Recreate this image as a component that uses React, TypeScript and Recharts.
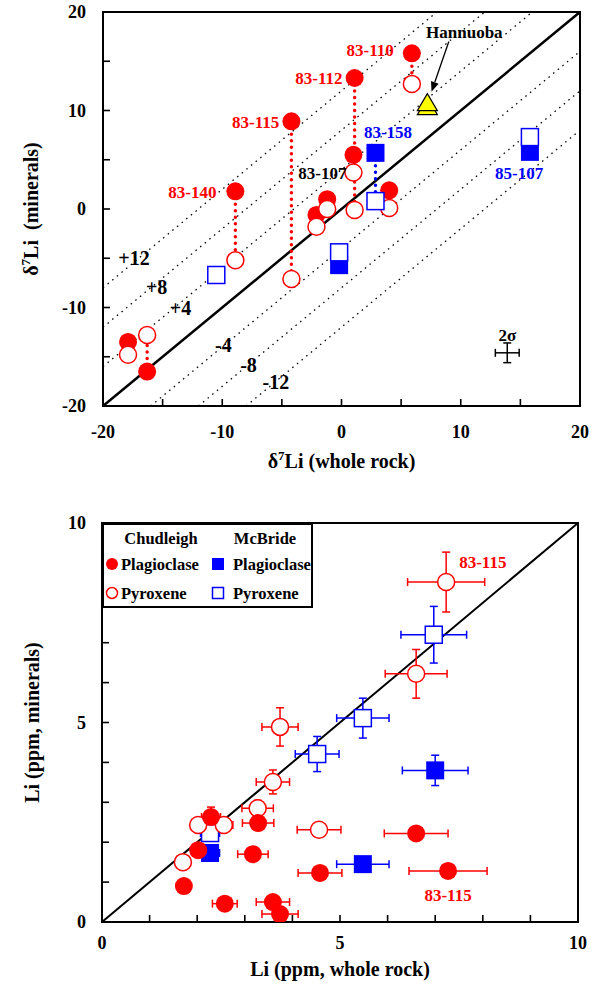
import React from "react";
import {
  ScatterChart,
  Scatter,
  XAxis,
  YAxis,
  ReferenceLine,
  ReferenceArea,
  ErrorBar,
  Legend,
  Label,
} from "recharts";

const FONT = "'Liberation Serif', 'Times New Roman', serif";
const RED = "#ff0000";
const BLUE = "#0000ff";

// ---- top panel: d7Li whole rock vs minerals ----
const chudWr = [-17.9, -16.3, -8.9, -4.2, -2.1, -1.2, 1.1, 1.0, 4.0, 5.9];
const chudPlag = [-13.5, -16.5, 1.8, 8.9, -0.6, 1.0, 13.3, 5.5, 1.9, 15.8];
const chudPyx = [-14.8, -12.8, -5.2, -7.1, -1.8, 0.0, -0.1, 3.7, 0.1, 12.7];

const mcbWr = [2.85, -0.2, 15.8, -10.5];
const mcbPlag = [5.7, -5.7, 5.8, null];
const mcbPyx = [0.8, -4.4, 7.3, -6.7];

const hannuobaX = 7.2;
const hannuobaY = 10.8;
const arrowFrom = { x: 9.0, y: 17.0 };
const arrowTo = { x: 7.55, y: 11.9 };

const sigmaX = 13.9;
const sigmaY = -14.6;
const sigmaErr = 1;

const offsets = [12, 8, 4, -4, -8, -12];
const offsetLabelX = [-17.4, -15.5, -13.5, -9.9, -7.8, -5.5];
const offsetLabelY = [-5.0, -7.9, -10.1, -13.8, -15.8, -17.6];

const topNames = ["83-110", "83-112", "83-115", "83-140", "83-107", "83-158", "85-107", "Hannuoba", "2σ"];
const topNameGroup = ["chud", "chud", "chud", "chud", "other", "mcb", "mcb", "other", "other"];
const topNameX = [2.4, -1.9, -7.2, -12.5, -1.6, 3.9, 14.9, 10.3, 13.9];
const topNameY = [16.1, 13.3, 8.8, 1.7, 3.7, 7.8, 3.7, 18.0, -12.8];

const topTicks = [-20, -15, -10, -5, 0, 5, 10, 15, 20];

// ---- bottom panel: Li ppm whole rock vs minerals ----
const liChudPlagWr = [7.27, 6.6, 4.58, 3.74, 3.59, 2.58, 1.72, 2.02, 3.17, 3.28, 2.29];
const liChudPlagMin = [1.28, 2.22, 1.23, 0.2, 0.5, 0.46, 0.9, 1.8, 1.7, 2.48, 2.63];
const liChudPlagWrErr = [0.82, 0.67, 0.46, 0.38, 0.35, 0.26, 0, 0, 0.32, 0.33, 0.2];
const liChudPlagMinErr = [0, 0, 0, 0, 0, 0, 0, 0, 0, 0.1, 0.25];

const liChudPyxWr = [7.23, 6.6, 3.74, 3.59, 3.27, 4.56, 2.02, 2.56, 1.7];
const liChudPyxMin = [8.52, 6.22, 4.89, 3.51, 2.85, 2.31, 2.43, 2.43, 1.5];
const liChudPyxWrErr = [0.81, 0.65, 0.38, 0.35, 0.33, 0.46, 0, 0.19, 0];
const liChudPyxMinErr = [0.75, 0.61, 0.48, 0.3, 0.2, 0, 0, 0, 0];

const liMcbPlagWr = [7.0, 5.48, 2.27];
const liMcbPlagMin = [3.8, 1.45, 1.73];
const liMcbPlagWrErr = [0.69, 0.55, 0.2];
const liMcbPlagMinErr = [0.38, 0, 0];

const liMcbPyxWr = [6.97, 5.48, 4.52, 2.27];
const liMcbPyxMin = [7.2, 5.11, 4.21, 2.23];
const liMcbPyxWrErr = [0.69, 0.55, 0.46, 0.2];
const liMcbPyxMinErr = [0.71, 0.5, 0.44, 0.1];

const bottomNames = ["83-115", "83-115"];
const bottomNameX = [8.0, 7.27];
const bottomNameY = [9.02, 0.68];

const bottomTicks = [0, 1, 2, 3, 4, 5, 6, 7, 8, 9, 10];

// ---- helpers ----
const groupColor: Record<string, string> = { chud: RED, mcb: BLUE, other: "#000" };

const pts = (xs: number[], ys: (number | null)[]) =>
  xs.map((x, i) => ({ x, y: ys[i] })).filter((d) => d.y !== null);

const errPts = (xs: number[], ys: number[], ex: number[], ey: number[]) =>
  xs.map((x, i) => ({ x, y: ys[i], ex: ex[i], ey: ey[i] }));

const textPts = (names: string[], xs: number[], ys: number[], groups?: string[]) =>
  names.map((text, i) => ({ x: xs[i], y: ys[i], text, group: groups ? groups[i] : "chud" }));

const FilledCircle = (p: any) => <circle cx={p.cx} cy={p.cy} r={9} fill={RED} />;
const OpenCircle = (p: any) => (
  <circle cx={p.cx} cy={p.cy} r={8.5} fill="#fff" stroke={RED} strokeWidth={1.5} />
);
const FilledSquare = (p: any) => (
  <rect x={p.cx - 9} y={p.cy - 9} width={18} height={18} fill={BLUE} />
);
const OpenSquare = (p: any) => (
  <rect x={p.cx - 8.5} y={p.cy - 8.5} width={17} height={17} fill="#fff" stroke={BLUE} strokeWidth={1.5} />
);
const Triangle = (p: any) => {
  const { cx, cy } = p;
  return (
    <g>
      <polygon
        points={`${cx},${cy - 5} ${cx - 10},${cy + 12} ${cx + 10},${cy + 12}`}
        fill="#ffff00"
        stroke="#000"
        strokeWidth={1.2}
      />
      <polygon
        points={`${cx},${cy - 9} ${cx - 10},${cy + 8} ${cx + 10},${cy + 8}`}
        fill="#ffff00"
        stroke="#000"
        strokeWidth={1.2}
      />
    </g>
  );
};
const NoMark = () => <g />;

const TextMark = (size: number) => (p: any) => (
  <text
    x={p.cx}
    y={p.cy}
    dy={size * 0.35}
    textAnchor="middle"
    fill={groupColor[p.payload.group]}
    fontFamily={FONT}
    fontWeight="bold"
    fontSize={size}
  >
    {p.payload.text}
  </text>
);

const Arrow = (p: any) => {
  const { x1, y1, x2, y2 } = p;
  const a = Math.atan2(y2 - y1, x2 - x1);
  const L = 10;
  const w = 4;
  const bx = x2 - L * Math.cos(a);
  const by = y2 - L * Math.sin(a);
  const px = -Math.sin(a) * w;
  const py = Math.cos(a) * w;
  return (
    <g>
      <line x1={x1} y1={y1} x2={bx} y2={by} stroke="#000" strokeWidth={1.3} />
      <polygon points={`${x2},${y2} ${bx + px},${by + py} ${bx - px},${by - py}`} fill="#000" />
    </g>
  );
};

// short inward tick marks, cut from full-span reference segments
const TickUp = (p: any) => {
  const y = Math.max(p.y1, p.y2);
  return <line x1={p.x1} x2={p.x1} y1={y} y2={y - 7} stroke="#000" strokeWidth={1.6} />;
};
const TickRight = (p: any) => {
  const x = Math.min(p.x1, p.x2);
  return <line x1={x} x2={x + 7} y1={p.y1} y2={p.y1} stroke="#000" strokeWidth={1.6} />;
};

const tickFont = { fill: "#000", fontSize: 18, fontWeight: "bold", fontFamily: FONT } as const;
const axisLine = { stroke: "#000", strokeWidth: 2 };
const labelStyle = { fontFamily: FONT, fontWeight: "bold", fontSize: 20, fill: "#000" } as const;

const BottomTick = (gap: number, every: number) => (p: any) => {
  const v = p.payload.value;
  if (v % every !== 0) return <g />;
  return (
    <text x={p.x} y={p.y + gap} dy="0.71em" textAnchor="middle" {...tickFont}>
      {v}
    </text>
  );
};

const LeftTick = (gap: number, every: number) => (p: any) => {
  const v = p.payload.value;
  if (v % every !== 0) return <g />;
  return (
    <text x={p.x - gap} y={p.y} dy="0.35em" textAnchor="end" {...tickFont}>
      {v}
    </text>
  );
};

const DeltaLabel = ({ rest }: { rest: string }) => (
  <>
    <tspan>δ</tspan>
    <tspan dy={-8} fontSize={13}>
      7
    </tspan>
    <tspan dy={8}>{rest}</tspan>
  </>
);

const xLabel = (dy: number, children: React.ReactNode) => (props: any) => {
  const vb = props.viewBox ?? { x: 0, y: 0, width: 0, height: 0 };
  return (
    <text x={vb.x + vb.width / 2} y={vb.y + dy} textAnchor="middle" {...labelStyle}>
      {children}
    </text>
  );
};

const yLabel = (cx: number, children: React.ReactNode) => (props: any) => {
  const vb = props.viewBox ?? { x: 0, y: 0, width: 0, height: 0 };
  const cy = vb.y + vb.height / 2;
  return (
    <text
      x={cx}
      y={cy + 6}
      textAnchor="middle"
      transform={`rotate(-90, ${cx}, ${cy})`}
      {...labelStyle}
    >
      {children}
    </text>
  );
};

const tickMarks = (ticks: number[], lo: number, hi: number) => [
  ...ticks.map((t) => (
    <ReferenceLine
      key={`tx${t}`}
      segment={[{ x: t, y: lo }, { x: t, y: hi }]}
      ifOverflow="visible"
      shape={TickUp}
    />
  )),
  ...ticks.map((t) => (
    <ReferenceLine
      key={`ty${t}`}
      segment={[{ x: lo, y: t }, { x: hi, y: t }]}
      ifOverflow="visible"
      shape={TickRight}
    />
  )),
];

function TopChart() {
  const ties = [
    ...chudWr.map((x, i) => ({ x, a: chudPlag[i], b: chudPyx[i], c: RED })),
    ...mcbWr
      .map((x, i) => ({ x, a: mcbPlag[i], b: mcbPyx[i], c: BLUE }))
      .filter((t) => t.a !== null),
  ];
  return (
    <ScatterChart width={599} height={480} margin={{ top: 12, right: 19, left: 0, bottom: 24 }}>
      <XAxis
        type="number"
        dataKey="x"
        domain={[-20, 20]}
        ticks={topTicks}
        interval={0}
        tickSize={0}
        tickMargin={0}
        tick={BottomTick(19, 10)}
        tickLine={false}
        axisLine={axisLine}
        height={50}
        allowDataOverflow
        label={<Label content={xLabel(62, <DeltaLabel rest="Li (whole rock)" />)} />}
      />
      <YAxis
        type="number"
        dataKey="y"
        domain={[-20, 20]}
        ticks={topTicks}
        interval={0}
        tickSize={0}
        tickMargin={0}
        tick={LeftTick(17, 10)}
        tickLine={false}
        axisLine={axisLine}
        width={103}
        allowDataOverflow
        label={<Label content={yLabel(32, <DeltaLabel rest={"Li\u00a0\u00a0(minerals)"} />)} />}
      />
      <ReferenceArea x1={-20} x2={20} y1={-20} y2={20} fill="none" stroke="#000" strokeWidth={2} ifOverflow="visible" />
      {tickMarks(topTicks, -20, 20)}
      {offsets.map((o) => (
        <ReferenceLine
          key={`o${o}`}
          segment={
            o > 0
              ? [{ x: -20, y: -20 + o }, { x: 20 - o, y: 20 }]
              : [{ x: -20 - o, y: -20 }, { x: 20, y: 20 + o }]
          }
          stroke="#000"
          strokeWidth={1.3}
          strokeDasharray="1.5 4.5"
          ifOverflow="visible"
        />
      ))}
      <ReferenceLine
        segment={[{ x: -20, y: -20 }, { x: 20, y: 20 }]}
        stroke="#000"
        strokeWidth={2.5}
        ifOverflow="visible"
      />
      {ties.map((t, i) => (
        <ReferenceLine
          key={`t${i}`}
          segment={[{ x: t.x, y: t.a as number }, { x: t.x, y: t.b as number }]}
          stroke={t.c}
          strokeWidth={3.5}
          strokeDasharray="0 6.5"
          strokeLinecap="round"
          ifOverflow="visible"
        />
      ))}
      <ReferenceLine segment={[arrowFrom, arrowTo]} ifOverflow="visible" shape={Arrow} />
      <Scatter data={pts(chudWr, chudPlag)} shape={FilledCircle} isAnimationActive={false} />
      <Scatter data={pts(chudWr, chudPyx)} shape={OpenCircle} isAnimationActive={false} />
      <Scatter data={pts(mcbWr, mcbPlag)} shape={FilledSquare} isAnimationActive={false} />
      <Scatter data={pts(mcbWr, mcbPyx)} shape={OpenSquare} isAnimationActive={false} />
      <Scatter data={[{ x: hannuobaX, y: hannuobaY }]} shape={Triangle} isAnimationActive={false} />
      <Scatter
        data={[{ x: sigmaX, y: sigmaY, ex: sigmaErr, ey: sigmaErr }]}
        shape={NoMark}
        isAnimationActive={false}
      >
        <ErrorBar dataKey="ex" direction="x" width={4} stroke="#000" strokeWidth={1.5} />
        <ErrorBar dataKey="ey" direction="y" width={4} stroke="#000" strokeWidth={1.5} />
      </Scatter>
      <Scatter
        data={offsets.map((o, i) => ({
          x: offsetLabelX[i],
          y: offsetLabelY[i],
          text: o > 0 ? `+${o}` : `${o}`,
          group: "other",
        }))}
        shape={TextMark(20)}
        isAnimationActive={false}
      />
      <Scatter
        data={textPts(topNames, topNameX, topNameY, topNameGroup)}
        shape={TextMark(17)}
        isAnimationActive={false}
      />
    </ScatterChart>
  );
}

const LegendBox = () => (
  <svg width={211} height={85} style={{ display: "block" }}>
    <rect x={1} y={1} width={209} height={83} fill="#fff" stroke="#000" strokeWidth={2} />
    <g fontFamily={FONT} fontWeight="bold" fontSize={16.5} fill="#000">
      <text x={59} y={21} textAnchor="middle">Chudleigh</text>
      <text x={163} y={21} textAnchor="middle">McBride</text>
      <circle cx={10} cy={41} r={6} fill={RED} />
      <text x={19} y={47}>Plagioclase</text>
      <rect x={110} y={35} width={12} height={12} fill={BLUE} />
      <text x={131} y={47}>Plagioclase</text>
      <circle cx={10} cy={70} r={5.5} fill="#fff" stroke={RED} strokeWidth={1.5} />
      <text x={19} y={76}>Pyroxene</text>
      <rect x={110.5} y={64.5} width={11} height={11} fill="#fff" stroke={BLUE} strokeWidth={1.5} />
      <text x={131} y={76}>Pyroxene</text>
    </g>
  </svg>
);

function BottomChart() {
  return (
    <ScatterChart width={599} height={496} margin={{ top: 33, right: 21, left: 0, bottom: 14 }}>
      <XAxis
        type="number"
        dataKey="x"
        domain={[0, 10]}
        ticks={bottomTicks}
        interval={0}
        tickSize={0}
        tickMargin={0}
        tick={BottomTick(14, 5)}
        tickLine={false}
        axisLine={axisLine}
        height={50}
        allowDataOverflow
        label={<Label content={xLabel(54, "Li (ppm, whole rock)")} />}
      />
      <YAxis
        type="number"
        dataKey="y"
        domain={[0, 10]}
        ticks={bottomTicks}
        interval={0}
        tickSize={0}
        tickMargin={0}
        tick={LeftTick(16, 5)}
        tickLine={false}
        axisLine={axisLine}
        width={102}
        allowDataOverflow
        label={<Label content={yLabel(33, "Li (ppm, minerals)")} />}
      />
      <ReferenceArea x1={0} x2={10} y1={0} y2={10} fill="none" stroke="#000" strokeWidth={2} ifOverflow="visible" />
      {tickMarks(bottomTicks, 0, 10)}
      <ReferenceLine
        segment={[{ x: 0, y: 0 }, { x: 10, y: 10 }]}
        stroke="#000"
        strokeWidth={2}
        ifOverflow="visible"
      />
      <Scatter
        data={errPts(liMcbPyxWr, liMcbPyxMin, liMcbPyxWrErr, liMcbPyxMinErr)}
        shape={OpenSquare}
        isAnimationActive={false}
      >
        <ErrorBar dataKey="ex" direction="x" width={4} stroke={BLUE} strokeWidth={1.5} />
        <ErrorBar dataKey="ey" direction="y" width={4} stroke={BLUE} strokeWidth={1.5} />
      </Scatter>
      <Scatter
        data={errPts(liMcbPlagWr, liMcbPlagMin, liMcbPlagWrErr, liMcbPlagMinErr)}
        shape={FilledSquare}
        isAnimationActive={false}
      >
        <ErrorBar dataKey="ex" direction="x" width={4} stroke={BLUE} strokeWidth={1.5} />
        <ErrorBar dataKey="ey" direction="y" width={4} stroke={BLUE} strokeWidth={1.5} />
      </Scatter>
      <Scatter
        data={errPts(liChudPyxWr, liChudPyxMin, liChudPyxWrErr, liChudPyxMinErr)}
        shape={OpenCircle}
        isAnimationActive={false}
      >
        <ErrorBar dataKey="ex" direction="x" width={4} stroke={RED} strokeWidth={1.5} />
        <ErrorBar dataKey="ey" direction="y" width={4} stroke={RED} strokeWidth={1.5} />
      </Scatter>
      <Scatter
        data={errPts(liChudPlagWr, liChudPlagMin, liChudPlagWrErr, liChudPlagMinErr)}
        shape={FilledCircle}
        isAnimationActive={false}
      >
        <ErrorBar dataKey="ex" direction="x" width={4} stroke={RED} strokeWidth={1.5} />
        <ErrorBar dataKey="ey" direction="y" width={4} stroke={RED} strokeWidth={1.5} />
      </Scatter>
      <Scatter
        data={textPts(bottomNames, bottomNameX, bottomNameY)}
        shape={TextMark(17)}
        isAnimationActive={false}
      />
      <Legend
        layout="vertical"
        align="center"
        verticalAlign="middle"
        wrapperStyle={{ left: 102, top: 33, width: 211, height: 85 }}
        content={() => <LegendBox />}
      />
    </ScatterChart>
  );
}

export default function App() {
  return (
    <div style={{ position: "absolute", left: 0, top: 0, width: 599, height: 986, background: "#fff" }}>
      <div style={{ position: "absolute", left: 0, top: 0 }}>
        <TopChart />
      </div>
      <div style={{ position: "absolute", left: 0, top: 490 }}>
        <BottomChart />
      </div>
    </div>
  );
}
